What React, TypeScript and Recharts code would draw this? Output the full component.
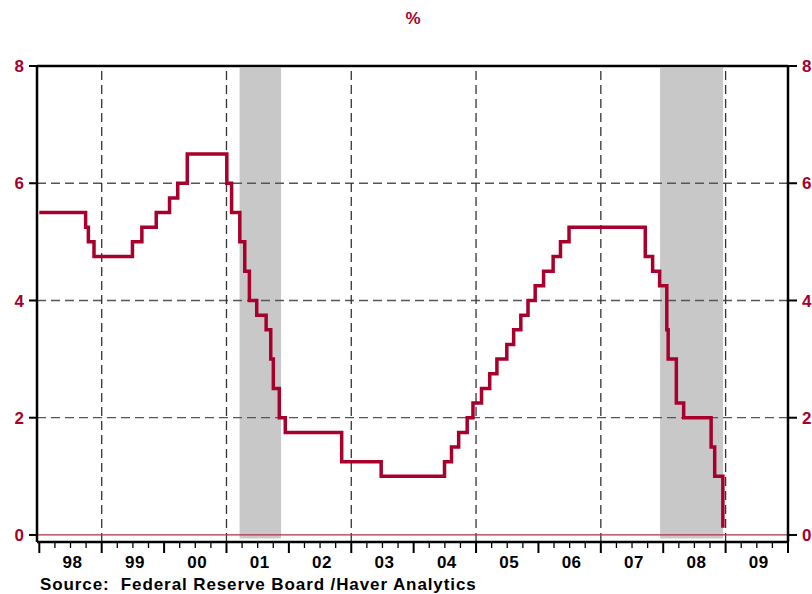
import React from "react";
import {
  ComposedChart,
  Line,
  XAxis,
  YAxis,
  ReferenceArea,
  ReferenceLine,
} from "recharts";

// Federal funds target rate: dates of change and new level (%)
const changeDates = [
  "1998-01-01", "1998-09-29", "1998-10-15", "1998-11-17",
  "1999-06-30", "1999-08-24", "1999-11-16",
  "2000-02-02", "2000-03-21", "2000-05-16",
  "2001-01-03", "2001-01-31", "2001-03-20", "2001-04-18", "2001-05-15",
  "2001-06-27", "2001-08-21", "2001-09-17", "2001-10-02", "2001-11-06", "2001-12-11",
  "2002-11-06",
  "2003-06-25",
  "2004-06-30", "2004-08-10", "2004-09-21", "2004-11-10", "2004-12-14",
  "2005-02-02", "2005-03-22", "2005-05-03", "2005-06-30", "2005-08-09",
  "2005-09-20", "2005-11-01", "2005-12-13",
  "2006-01-31", "2006-03-28", "2006-05-10", "2006-06-29",
  "2007-09-18", "2007-10-31", "2007-12-11",
  "2008-01-22", "2008-01-30", "2008-03-18", "2008-04-30",
  "2008-10-08", "2008-10-29", "2008-12-16",
];
const rates = [
  5.5, 5.25, 5.0, 4.75,
  5.0, 5.25, 5.5,
  5.75, 6.0, 6.5,
  6.0, 5.5, 5.0, 4.5, 4.0,
  3.75, 3.5, 3.0, 2.5, 2.0, 1.75,
  1.25,
  1.0,
  1.25, 1.5, 1.75, 2.0, 2.25,
  2.5, 2.75, 3.0, 3.25, 3.5,
  3.75, 4.0, 4.25,
  4.5, 4.75, 5.0, 5.25,
  4.75, 4.5, 4.25,
  3.5, 3.0, 2.25, 2.0,
  1.5, 1.0, 0.125,
];

// Recessions (NBER), as fractional years
const recessionStarts = [2001.21, 2007.95];
const recessionEnds = [2001.875, 2008.96];

const yearTicks = [1998, 1999, 2000, 2001, 2002, 2003, 2004, 2005, 2006, 2007, 2008, 2009, 2010];
const yTicks = [0, 2, 4, 6, 8];
const hGrid = [2, 4, 6];
const vGrid = [1999, 2001, 2003, 2005, 2007, 2009];

const RED = "#a8002c";
const FONT = "'Liberation Sans', Arial, Helvetica, sans-serif";

function toYear(s: string): number {
  const [y, m, d] = s.split("-").map(Number);
  const start = Date.UTC(y, 0, 1);
  const end = Date.UTC(y + 1, 0, 1);
  return y + (Date.UTC(y, m - 1, d) - start) / (end - start);
}

const data = changeDates.map((d, i) => ({ t: toYear(d), rate: rates[i] }));

const quarterTicks: number[] = [];
yearTicks.forEach((y, i) => {
  quarterTicks.push(y);
  if (i < yearTicks.length - 1) {
    quarterTicks.push(y + 0.25, y + 0.5, y + 0.75);
  }
});

const XTick = (props: any) => {
  const { x, y, payload } = props;
  const v: number = payload.value;
  const frac = Math.round((v - Math.floor(v)) * 100) / 100;
  const major = frac === 0;
  const els: React.ReactNode[] = [];
  els.push(
    <line
      key="l"
      x1={x}
      x2={x}
      y1={y}
      y2={y + (major ? 11 : 6)}
      stroke="#000"
      strokeWidth={major ? 2 : 1.3}
    />
  );
  if (frac === 0.5) {
    const lab = String(Math.floor(v) % 100).padStart(2, "0");
    els.push(
      <text
        key="t"
        x={x + 2}
        y={y + 26}
        textAnchor="middle"
        fontFamily={FONT}
        fontWeight="bold"
        fontSize={17}
        letterSpacing={0.5}
        fill="#000"
      >
        {lab}
      </text>
    );
  }
  return <g>{els}</g>;
};

export default function App() {
  return (
    <div
      style={{
        position: "absolute",
        left: 0,
        top: 0,
        width: 812,
        height: 594,
        background: "#fff",
      }}
    >
      <div
        style={{
          position: "absolute",
          left: 0,
          width: 826,
          top: 9,
          textAlign: "center",
          color: RED,
          fontFamily: FONT,
          fontWeight: "bold",
          fontSize: 17,
        }}
      >
        %
      </div>
      <ComposedChart
        width={812}
        height={594}
        data={data}
        margin={{ top: 66, right: 0, bottom: 0, left: 0 }}
      >
        <XAxis
          xAxisId="bottom"
          dataKey="t"
          type="number"
          domain={[1997.963, 2010]}
          allowDataOverflow
          ticks={quarterTicks}
          interval={0}
          tick={<XTick />}
          tickLine={false}
          tickSize={0}
          tickMargin={0}
          height={52}
          axisLine={{ stroke: "#000", strokeWidth: 2.5 }}
        />
        <YAxis
          yAxisId="left"
          type="number"
          domain={[-0.12, 8]}
          allowDataOverflow
          ticks={yTicks}
          interval={0}
          width={37}
          tickSize={8}
          tickMargin={5}
          tickLine={{ stroke: "#000", strokeWidth: 2 }}
          axisLine={{ stroke: "#000", strokeWidth: 2.5 }}
          tick={{ fill: RED, fontFamily: FONT, fontWeight: "bold", fontSize: 17 }}
        />
        <YAxis
          yAxisId="right"
          orientation="right"
          type="number"
          domain={[-0.12, 8]}
          allowDataOverflow
          ticks={yTicks}
          interval={0}
          width={24}
          tickSize={9}
          tickMargin={5}
          tickLine={{ stroke: "#000", strokeWidth: 2 }}
          axisLine={{ stroke: "#000", strokeWidth: 2.5 }}
          tick={{ fill: RED, fontFamily: FONT, fontWeight: "bold", fontSize: 17, textAnchor: "start" }}
        />
        {recessionStarts.map((s, i) => (
          <ReferenceArea
            key={"r" + i}
            xAxisId="bottom"
            yAxisId="left"
            x1={s}
            x2={recessionEnds[i]}
            y1={-0.06}
            y2={7.97}
            fill="#c8c8c8"
            fillOpacity={1}
            stroke="none"
            ifOverflow="hidden"
            zIndex={50}
          />
        ))}
        {hGrid.map((g) => (
          <ReferenceLine
            key={"h" + g}
            xAxisId="bottom"
            yAxisId="left"
            y={g}
            stroke="#555"
            strokeWidth={1.3}
            strokeDasharray="9 5"
            zIndex={60}
          />
        ))}
        {vGrid.map((g) => (
          <ReferenceLine
            key={"v" + g}
            xAxisId="bottom"
            yAxisId="left"
            x={g}
            stroke="#333"
            strokeWidth={1.3}
            strokeDasharray="9 5"
            zIndex={60}
          />
        ))}
        <ReferenceLine
          xAxisId="bottom"
          yAxisId="left"
          y={0}
          stroke="#b03048"
          strokeWidth={1.2}
          zIndex={70}
        />
        <ReferenceLine
          xAxisId="bottom"
          yAxisId="left"
          y={8}
          stroke="#000"
          strokeWidth={2.5}
          zIndex={70}
        />
        <Line
          xAxisId="bottom"
          yAxisId="left"
          type="stepAfter"
          dataKey="rate"
          stroke={RED}
          strokeWidth={3.5}
          dot={false}
          activeDot={false}
          isAnimationActive={false}
        />
      </ComposedChart>
      <div
        style={{
          position: "absolute",
          left: 40,
          top: 575,
          whiteSpace: "pre",
          color: "#000",
          fontFamily: FONT,
          fontWeight: "bold",
          fontSize: 17,
          lineHeight: "20px",
          letterSpacing: 0.9,
        }}
      >
        {"Source:  Federal Reserve Board /Haver Analytics"}
      </div>
    </div>
  );
}
